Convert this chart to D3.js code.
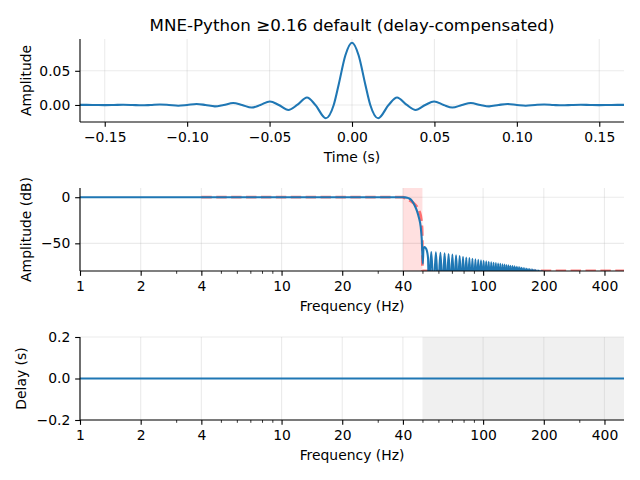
<!DOCTYPE html>
<html><head><meta charset="utf-8">
<script src="https://cdn.jsdelivr.net/npm/d3@7"></script>
<style>body{margin:0;background:#fff} text{font-family:"DejaVu Sans",sans-serif}</style>
</head><body><svg id="c" width="640" height="480"></svg>
<script>
// ---------- data ----------
const titleText = "MNE-Python \u22650.16 default (delay-compensated)";
// impulse response (time in s, amplitude)
const impT = [-0.165, -0.1610, -0.1556, -0.1499, -0.1444, -0.1388, -0.1333, -0.1277, -0.1222, -0.1166, -0.1111, -0.1054, -0.1000, -0.0943, -0.0889, -0.0832, -0.0778, -0.0721, -0.0667, -0.0609, -0.0556, -0.0498, -0.0444, -0.0386, -0.0333, -0.0273, -0.0222, -0.0159, -0.0111, -0.008, -0.004,
  0,
  0.004, 0.008, 0.0111, 0.0159, 0.0222, 0.0273, 0.0333, 0.0386, 0.0444, 0.0498, 0.0556, 0.0609, 0.0667, 0.0721, 0.0778, 0.0832, 0.0889, 0.0943, 0.1000, 0.1054, 0.1111, 0.1166, 0.1222, 0.1277, 0.1333, 0.1388, 0.1444, 0.1499, 0.1556, 0.1610, 0.165];
const impA = [0.0001, 0.0002, 0, -0.0002, 0, 0.0003, 0, -0.0005, 0, 0.0007, 0, -0.0011, 0, 0.0015, 0, -0.0021, 0, 0.0028, 0, -0.0038, 0, 0.0052, 0, -0.0073, 0, 0.0110, 0, -0.0194, 0, 0.0308, 0.0728,
  0.0910,
  0.0728, 0.0308, 0, -0.0194, 0, 0.0110, 0, -0.0073, 0, 0.0052, 0, -0.0038, 0, 0.0028, 0, -0.0021, 0, 0.0015, 0, -0.0011, 0, 0.0007, 0, -0.0005, 0, 0.0003, 0, -0.0002, 0, 0.0002, 0.0001];
const timeTicks = [-0.15, -0.10, -0.05, 0.00, 0.05, 0.10, 0.15];
const ampTicks = [0.00, 0.05];

// magnitude response (Hz, dB)
const magFreq = [1, 10, 30, 38, 40, 41, 42, 43, 44, 45, 46, 47, 48, 49, 49.6, 50.2, 50.6, 51.0, 51.8, 52.6, 53.3,
  53.8, 55.3, 56.8, 58.3, 59.8, 61.4, 62.9, 64.4, 65.9, 67.4, 68.9, 70.4, 71.9, 73.4, 75.0, 76.5, 78.0, 79.5, 81.0, 82.5,
  84.0, 85.5, 87.0, 88.5, 90.0, 91.6, 93.1, 94.6, 96.1, 97.6, 99.1, 100.6, 102.1, 103.6, 105.1, 106.6, 108.2, 109.7, 111.2, 112.7,
  114.2, 115.7, 117.2, 118.7, 120.2, 121.7, 123.3, 124.8, 126.3, 127.8, 129.3, 130.8, 132.3, 133.8, 135.3, 136.8, 138.4, 139.9, 141.4, 142.9,
  144.4, 145.9, 147.4, 148.9, 150.4, 151.9, 153.5, 155.0, 156.5, 158.0, 159.5, 161.0, 162.5, 164.0, 165.5, 167.0, 168.6, 170.1, 171.6, 173.1,
  174.6, 176.1, 177.6, 179.1, 180.6, 182.1, 183.7, 185.2, 186.7, 188.2, 189.7, 191.2, 192.7, 194.2, 195.7, 197.2, 198.8, 200.3, 201.8, 203.3,
  204.8, 206.3, 207.8, 209.3, 210.8, 500];
const magDb = [0, 0, 0, -0.02, -0.06, -0.2, -0.6, -1.4, -3.0, -6.0, -10, -15, -22, -32, -45, -72, -56, -54, -55, -58, -66,
  -100, -59.5, -100, -59.8, -100, -60.2, -100, -60.8, -100, -61.5, -100, -62.2, -100, -63.0, -100, -63.8, -100, -64.6, -100, -65.3,
  -100, -66.0, -100, -66.7, -100, -67.3, -100, -67.9, -100, -68.5, -100, -69.0, -100, -69.5, -100, -70.0, -100, -70.5, -100, -71.0,
  -100, -71.4, -100, -71.8, -100, -72.3, -100, -72.7, -100, -73.1, -100, -73.5, -100, -73.9, -100, -74.3, -100, -74.7, -100, -75.0,
  -100, -75.4, -100, -75.7, -100, -76.0, -100, -76.4, -100, -76.7, -100, -77.0, -100, -77.3, -100, -77.6, -100, -77.9, -100, -78.2,
  -100, -78.5, -100, -78.8, -100, -79.0, -100, -79.3, -100, -79.6, -100, -79.8, -100, -80.1, -100, -80.3, -100, -80.6, -100, -80.8,
  -100, -81.1, -100, -81.3, -100, -110];
// ideal (desired) response
const idealFreq = [4, 40, 42, 44, 45, 46, 47, 48, 48.5, 49, 49.5, 49.8, 49.95, 50, 500];
const idealDb = [0, 0, -1.9, -4.4, -6.0, -8.0, -10.5, -14.0, -16.5, -20.0, -26.0, -34.0, -46.0, -80, -80];
const transBand = [40, 50];
const freqTicks = [1, 2, 4, 10, 20, 40, 100, 200, 400];
const freqMinor = [3, 5, 6, 7, 8, 9, 30, 50, 60, 70, 80, 90, 300];
const dbTicks = [-50, 0];

// group delay (Hz, s)
const delayFreq = [1, 500];
const delayS = [0, 0];
const delayTicks = [-0.2, 0.0, 0.2];
const stopBand = [50, 500];

// ---------- drawing ----------
const svg = d3.select("#c");
const L = 80, R = 624;
const FS = 13.9, TICK = 4.86;
const blue = "#1f77b4";

const x1 = d3.scaleLinear([-0.165, 0.165], [L, R]);
const y1 = d3.scaleLinear([-0.0249, 0.0965], [122, 39]);
const xf2 = d3.scaleLog([1, 500], [L, R]);
const y2 = d3.scaleLinear([-80, 10], [271, 188]);
const xf3 = d3.scaleLog([1, 500], [L, R]);
const y3 = d3.scaleLinear([-0.2, 0.2], [420, 337]);

svg.append("text").attr("x", (L + R) / 2).attr("y", 31).attr("text-anchor", "middle")
  .attr("font-size", 16.7).attr("fill", "#000").text(titleText);

function clip(id, x, y) {
  svg.append("clipPath").attr("id", id).append("rect")
    .attr("x", x.range()[0]).attr("y", y.range()[1])
    .attr("width", x.range()[1] - x.range()[0]).attr("height", y.range()[0] - y.range()[1]);
}
function grid(x, y, xt, yt) {
  const g = svg.append("g").attr("stroke", "#b0b0b0").attr("stroke-opacity", 0.25).attr("stroke-width", 1.1);
  xt.forEach(v => g.append("line").attr("x1", x(v)).attr("x2", x(v)).attr("y1", y.range()[0]).attr("y2", y.range()[1]));
  yt.forEach(v => g.append("line").attr("y1", y(v)).attr("y2", y(v)).attr("x1", x.range()[0]).attr("x2", x.range()[1]));
}
function styleAx(g) {
  g.select(".domain").remove();
  g.selectAll("line").attr("stroke", "#000").attr("stroke-width", 1.1);
  g.selectAll("text").attr("font-size", FS).attr("fill", "#000").attr("font-family", "DejaVu Sans");
}
function axes(x, y, xt, xfmt, yt, yfmt, minor) {
  const b = y.range()[0];
  const gx = svg.append("g").attr("transform", `translate(0,${b})`)
    .call(d3.axisBottom(x).tickValues(xt).tickFormat(xfmt).tickSize(TICK).tickPadding(5));
  styleAx(gx);
  if (minor) {
    const gm = svg.append("g").attr("transform", `translate(0,${b})`)
      .call(d3.axisBottom(x).tickValues(minor).tickFormat("").tickSize(2.8));
    gm.select(".domain").remove();
    gm.selectAll("line").attr("stroke", "#000").attr("stroke-width", 0.8);
  }
  const gy = svg.append("g").attr("transform", `translate(${L},0)`)
    .call(d3.axisLeft(y).tickValues(yt).tickFormat(yfmt).tickSize(TICK).tickPadding(4.86));
  styleAx(gy);
  svg.append("line").attr("x1", L).attr("x2", L).attr("y1", y.range()[1]).attr("y2", b).attr("stroke", "#000").attr("stroke-width", 1.1);
  svg.append("line").attr("x1", L).attr("x2", R).attr("y1", b).attr("y2", b).attr("stroke", "#000").attr("stroke-width", 1.1);
}
function xlabel(text, y) {
  svg.append("text").attr("x", (L + R) / 2).attr("y", y).attr("text-anchor", "middle")
    .attr("font-size", FS).attr("fill", "#000").text(text);
}
function ylabel(text, x, cy) {
  svg.append("text").attr("transform", `translate(${x},${cy}) rotate(-90)`).attr("text-anchor", "middle")
    .attr("font-size", FS).attr("fill", "#000").text(text);
}

// Panel 1: impulse response
clip("c1", x1, y1);
grid(x1, y1, timeTicks, ampTicks);
svg.append("path").attr("clip-path", "url(#c1)")
  .datum(impT.map((t, i) => [t, impA[i]]))
  .attr("fill", "none").attr("stroke", blue).attr("stroke-width", 2.08)
  .attr("d", d3.line().x(d => x1(d[0])).y(d => y1(d[1])).curve(d3.curveMonotoneX));
axes(x1, y1, timeTicks, d3.format(".2f"), ampTicks, d3.format(".2f"));
xlabel("Time (s)", 162);
ylabel("Amplitude", 31, 80.5);

// Panel 2: magnitude
clip("c2", xf2, y2);
grid(xf2, y2, freqTicks, dbTicks);
svg.append("rect").attr("x", xf2(transBand[0])).attr("width", xf2(transBand[1]) - xf2(transBand[0]))
  .attr("y", y2.range()[1]).attr("height", y2.range()[0] - y2.range()[1])
  .attr("fill", "#ff0000").attr("fill-opacity", 0.12);
svg.append("path").attr("clip-path", "url(#c2)")
  .datum(idealFreq.map((f, i) => [f, idealDb[i]]))
  .attr("fill", "none").attr("stroke", "#ff0000").attr("stroke-opacity", 0.5).attr("stroke-width", 2.8)
  .attr("stroke-dasharray", "10.4,4.5")
  .attr("d", d3.line().x(d => xf2(d[0])).y(d => y2(d[1])));
svg.append("path").attr("clip-path", "url(#c2)")
  .datum(magFreq.map((f, i) => [f, magDb[i]]))
  .attr("fill", "none").attr("stroke", blue).attr("stroke-width", 2.08).attr("stroke-linejoin", "round")
  .attr("d", d3.line().x(d => xf2(d[0])).y(d => y2(d[1])).curve(d3.curveMonotoneX));
axes(xf2, y2, freqTicks, d => String(d), dbTicks, d3.format("d"), freqMinor);
xlabel("Frequency (Hz)", 311);
ylabel("Amplitude (dB)", 31, 229.5);

// Panel 3: delay
clip("c3", xf3, y3);
svg.append("rect").attr("x", xf3(stopBand[0])).attr("width", xf3(stopBand[1]) - xf3(stopBand[0]))
  .attr("y", y3.range()[1]).attr("height", y3.range()[0] - y3.range()[1])
  .attr("fill", "#000").attr("fill-opacity", 0.06);
grid(xf3, y3, freqTicks, delayTicks);
svg.append("path").attr("clip-path", "url(#c3)")
  .datum(delayFreq.map((f, i) => [f, delayS[i]]))
  .attr("fill", "none").attr("stroke", blue).attr("stroke-width", 2.08)
  .attr("d", d3.line().x(d => xf3(d[0])).y(d => y3(d[1])));
axes(xf3, y3, freqTicks, d => String(d), delayTicks, d3.format(".1f"), freqMinor);
xlabel("Frequency (Hz)", 460);
ylabel("Delay (s)", 26, 378.5);
</script></body></html>
